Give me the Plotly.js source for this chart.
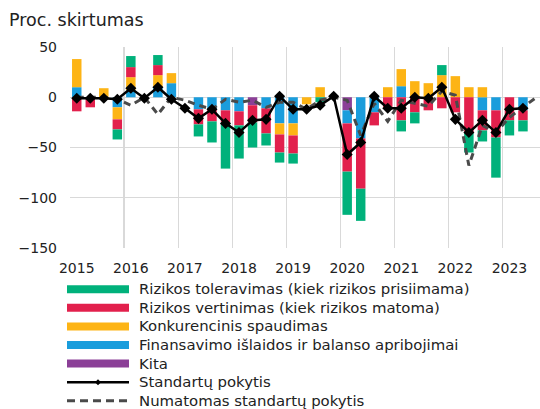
<!DOCTYPE html>
<html>
<head>
<meta charset="utf-8">
<script src="https://cdn.plot.ly/plotly-3.0.1.min.js"></script>
<style>
html,body{margin:0;padding:0;background:#fff;}
#chart{width:540px;height:409px;}
</style>
</head>
<body>
<div id="chart"></div>
<script>
// ---- Data ----
const quarters = [
  "2015Q1","2015Q2","2015Q3","2015Q4",
  "2016Q1","2016Q2","2016Q3","2016Q4",
  "2017Q1","2017Q2","2017Q3","2017Q4",
  "2018Q1","2018Q2","2018Q3","2018Q4",
  "2019Q1","2019Q2","2019Q3","2019Q4",
  "2020Q1","2020Q2","2020Q3","2020Q4",
  "2021Q1","2021Q2","2021Q3","2021Q4",
  "2022Q1","2022Q2","2022Q3","2022Q4",
  "2023Q1","2023Q2"
];
const quartersExpected = quarters.concat(["2023Q3"]);
const yearLabels = ["2015","2016","2017","2018","2019","2020","2021","2022","2023"];
const yTicks = [-150, -100, -50, 0, 50];

const riskTolerance = [0,0,0,-10, 11,0,10,0, 0,-12,-21,-46, -33,-25,-12,-10, -10,0,-5,0, -43,-32,0,0, -11,-11,0,10, 0,-20,-11,-40, -15,-11];
const riskPerception = [-14,-10,0,-10, 10,0,10,0, 0,-15,-12,-12, -14,-17,-25,-18, -18,0,0,0, -48,-50,-13,-10, -23,-15,-13,-11, -15,-35,-20,-27, -23,-10];
const competition = [28,0,9,-12, 13,0,12,10, 0,0,0,0, 0,0,0,-11, -12,-7,10,0, 0,0,0,10, 17,16,14,22, 21,10,10,0, 0,0];
const fundingCosts = [10,0,0,-10, 7,0,10,14, 0,-12,-12,-13, -14,0,-11,-26, -26,0,0,0, -13,-41,-15,0, 11,0,0,0, 0,0,-13,-13, 0,-13];
const other = [0,0,0,0, 0,0,0,0, 0,0,0,0, 0,-8,0,0, 0,0,0,0, -13,0,0,0, 0,0,0,0, 0,0,0,0, 0,0];
const standardsChange = [-1,-1,-1,-2, 9,-1,10,-2, -11,-21,-12,-26, -35,-23,-22,1, -12,-12,-8,1, -57,-45,1,-11, -11,0,-1,10, -22,-35,-23,-35, -12,-11];
const expectedChange = [0,0,0,-2, -8,0,-17,0, -3,-8,-12,-2, -5,-3,-10,-5, -5,-12,-3,0, -3,-38,-6,-24, -3,-6,-9,6, 2,-68,-28,-35, -20,-10,0];

const names = {
  tol: "Rizikos toleravimas (kiek rizikos prisiimama)",
  per: "Rizikos vertinimas (kiek rizikos matoma)",
  comp: "Konkurencinis spaudimas",
  fund: "Finansavimo išlaidos ir balanso apribojimai",
  oth: "Kita",
  std: "Standartų pokytis",
  exp: "Numatomas standartų pokytis"
};
const colors = {tol:"#00b17b", per:"#e2204c", comp:"#fdb415", fund:"#1a9ddc", oth:"#8b3f97", std:"#000000", exp:"#4a4a4a"};

// quarter label -> position on a continuous year axis (bar centred in its quarter)
function qx(label){ const y = +label.slice(0,4), q = +label.slice(5); return y + (q - 0.5) / 4; }
const x = quarters.map(qx);
const xExp = quartersExpected.map(qx);

const FONT = "DejaVu Sans, Verdana, sans-serif";
const TXT = "#222222";
const barW = 0.175;

function bar(key, vals){
  return {type:"bar", x:x, y:vals, name:names[key], width:barW,
          marker:{color:colors[key], line:{width:0}}, showlegend:false, hoverinfo:"y+name"};
}
const traces = [
  bar("oth", other),
  bar("fund", fundingCosts),
  bar("comp", competition),
  bar("per", riskPerception),
  bar("tol", riskTolerance),
  {type:"scatter", mode:"lines", x:xExp, y:expectedChange, name:names.exp,
   line:{color:colors.exp, width:3, dash:"7px,5px"}, showlegend:false},
  {type:"scatter", mode:"lines+markers", x:x, y:standardsChange, name:names.std,
   line:{color:colors.std, width:2.5}, marker:{symbol:"diamond", size:8.5, color:colors.std}, showlegend:false}
];

// ---- Manual legend (pixel layout converted to paper coords) ----
const plotL = 70, plotR = 540, plotT = 47, plotB = 248;
const px = p => (p - plotL) / (plotR - plotL);
const py = p => (plotB - p) / (plotB - plotT);
const legendKeys = ["tol","per","comp","fund","oth","std","exp"];
const legTop = 289.2, legStep = 18.6, swL = 67, swR = 129, txtL = 137;
const shapes = [], annotations = [];
legendKeys.forEach((k, i) => {
  const c = legTop + i * legStep;
  if (k === "std") {
    shapes.push({type:"line", xref:"paper", yref:"paper", x0:px(swL), x1:px(swR), y0:py(c), y1:py(c),
                 line:{color:colors.std, width:2.5}});
    const m = (swL + swR) / 2, d = 3;
    shapes.push({type:"path", xref:"paper", yref:"paper",
                 path:`M${px(m-d)},${py(c)} L${px(m)},${py(c-d)} L${px(m+d)},${py(c)} L${px(m)},${py(c+d)} Z`,
                 fillcolor:colors.std, line:{width:0}});
  } else if (k === "exp") {
    shapes.push({type:"line", xref:"paper", yref:"paper", x0:px(swL), x1:px(swR), y0:py(c), y1:py(c),
                 line:{color:colors.exp, width:3, dash:"8px,5px"}});
  } else {
    shapes.push({type:"rect", xref:"paper", yref:"paper", x0:px(swL), x1:px(swR), y0:py(c+4), y1:py(c-4),
                 fillcolor:colors[k], line:{width:0}});
  }
  annotations.push({xref:"paper", yref:"paper", x:px(txtL), y:py(c), xanchor:"left", yanchor:"middle",
                    text:names[k], showarrow:false, font:{family:FONT, size:14.9, color:TXT}});
});

const years = yearLabels.map(Number);
const layout = {
  width:540, height:409,
  margin:{l:plotL, r:540-plotR, t:plotT, b:409-plotB},
  paper_bgcolor:"#fff", plot_bgcolor:"#fff",
  font:{family:FONT, size:14, color:TXT},
  title:{text:"Proc. skirtumas", xref:"container", yref:"container", x:9/540, xanchor:"left",
         y:1-20/409, yanchor:"middle", font:{family:FONT, size:17.5, color:TXT}},
  barmode:"relative",
  showlegend:false,
  xaxis:{range:[2015, 2023.69], tickmode:"array", tickvals:years.map(v => v + 0.125), ticktext:yearLabels,
         showgrid:false, zeroline:false, showline:false, ticks:"", ticklabelstandoff:10,
         tickfont:{family:FONT, size:14, color:TXT},
         minor:{tickmode:"array", tickvals:years, showgrid:true, gridcolor:"#d9d9d9", gridwidth:1.3, ticks:""}},
  yaxis:{range:[-150, 50], tickmode:"array", tickvals:yTicks, ticktext:yTicks.map(v => v < 0 ? "\u2212" + Math.abs(v) : String(v)),
         showgrid:true, gridcolor:"#d9d9d9", gridwidth:1.3, zeroline:false, showline:false, ticks:"",
         ticklabelstandoff:12, tickfont:{family:FONT, size:14, color:TXT}},
  shapes:shapes,
  annotations:annotations
};

Plotly.newPlot("chart", traces, layout, {staticPlot:true, displayModeBar:false});
</script>
</body>
</html>
